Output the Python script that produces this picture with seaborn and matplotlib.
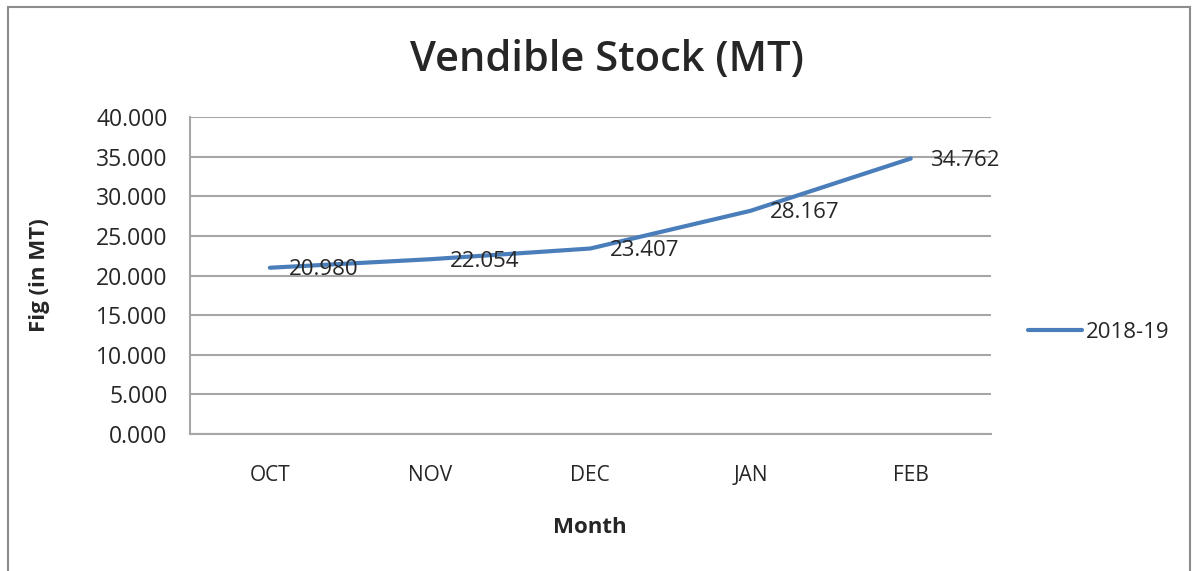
import matplotlib.pyplot as plt
import matplotlib.patches as mpatches
import pandas as pd
import seaborn as sns

# Data
months = ['OCT', 'NOV', 'DEC', 'JAN', 'FEB']
stock = [20.980, 22.054, 23.407, 28.167, 34.762]
series_name = '2018-19'
y_ticks = [0, 5, 10, 15, 20, 25, 30, 35, 40]

df = pd.DataFrame({'Month': months, 'Stock': stock})

sns.set_style('white')
plt.rcParams['font.family'] = ['Open Sans', 'DejaVu Sans']

fig = plt.figure(figsize=(12.01, 5.71), dpi=100)
ax = fig.add_axes([0.158, 0.240, 0.667, 0.555])

line_color = '#4a7ebb'
grid_color = '#a6a6a6'
text_color = '#262626'

sns.lineplot(data=df, x='Month', y='Stock', ax=ax, color=line_color,
             linewidth=3, label=series_name, sort=False)

# data labels to the right of each point
for i, v in enumerate(stock):
    ax.annotate(f'{v:.3f}', (i, v), xytext=(14, -1.5), textcoords='offset points',
                ha='left', va='center', fontsize=16, color=text_color)

ax.set_xlim(-0.5, len(months) - 0.5)
ax.set_ylim(0, 40)
ax.set_yticks(y_ticks)
ax.set_yticklabels([f'{t:.3f}' for t in y_ticks], fontsize=16.5, color=text_color)
ax.set_xticks(range(len(months)))
ax.set_xticklabels(months, fontsize=15, color=text_color)
ax.set_xticks([i - 0.5 for i in range(len(months) + 1)], minor=True)

ax.tick_params(axis='x', which='major', length=0, pad=22)
ax.tick_params(axis='x', which='minor', length=6, width=1.2, color=grid_color, direction='out')
ax.tick_params(axis='y', length=6, width=1.2, color=grid_color, direction='out', pad=10)

ax.yaxis.grid(True, color=grid_color, linewidth=1.5)
ax.xaxis.grid(False)
ax.set_axisbelow(True)
for s in ['top', 'right']:
    ax.spines[s].set_visible(False)
for s in ['left', 'bottom']:
    ax.spines[s].set_color(grid_color)
    ax.spines[s].set_linewidth(1.5)

ax.set_xlabel('Month', fontsize=16, fontweight='bold')
ax.set_ylabel('Fig (in MT)', fontsize=16, fontweight='bold')
ax.xaxis.set_label_coords(0.5, -0.262)
ax.yaxis.set_label_coords(-0.175, 0.5)
fig.text(0.505, 0.895, 'Vendible Stock (MT)', ha='center', va='center',
         fontsize=30, fontweight='semibold')

ax.legend(loc='center left', bbox_to_anchor=(1.022, 0.32), frameon=False,
          fontsize=16, handlelength=2.4, handletextpad=0.2)

# outer chart border
fig.patches.append(mpatches.Rectangle((0.007, -0.02), 0.984, 1.008,
                                      transform=fig.transFigure, fill=False,
                                      edgecolor='#8c8c8c', linewidth=1.5))

fig.savefig('out.png', dpi=100)
